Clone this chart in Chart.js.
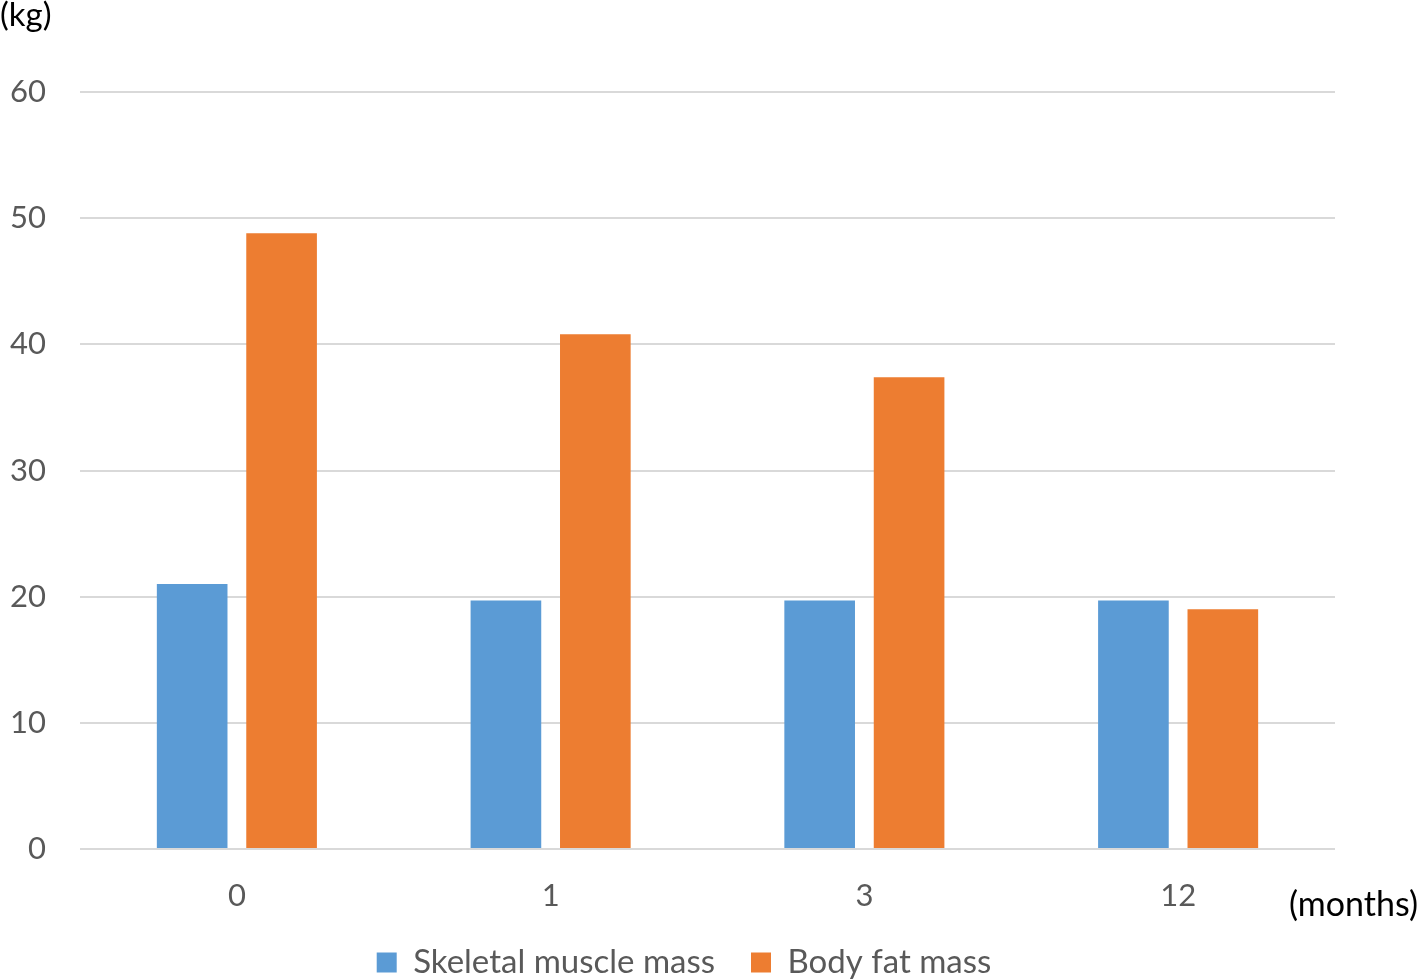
<!DOCTYPE html>
<html>
<head>
<meta charset="utf-8">
<script src="https://cdn.jsdelivr.net/npm/chart.js@4"></script>
<style>
  html, body { margin: 0; padding: 0; background: #fff; }
  #wrap { width: 1418px; height: 979px; }
</style>
</head>
<body>
<div id="wrap"><canvas id="chart" width="1418" height="979"></canvas></div>
<script>
// months after start
const months = ['0', '1', '3', '12'];
// kg
const skeletalMuscle = [21.0, 19.7, 19.7, 19.7];
const bodyFat = [48.8, 40.8, 37.4, 19.0];

const FONT = 'Lato, "Open Sans", sans-serif';
const TICK_GRAY = '#595959';

// axis unit captions: "(kg)" above the y axis, "(months)" right of the x labels
const unitLabels = {
    id: 'unitLabels',
    afterDraw(chart) {
        const ctx = chart.ctx;
        ctx.save();
        ctx.fillStyle = '#000';
        ctx.textBaseline = 'middle';
        ctx.font = '33px ' + FONT;
        ctx.textAlign = 'left';
        ctx.fillText('(kg)', 0, 15);
        ctx.font = '34px ' + FONT;
        ctx.textAlign = 'right';
        ctx.fillText('(months)', 1418, 905);
        ctx.restore();
    }
};

const ctx = document.getElementById('chart').getContext('2d');
new Chart(ctx, {
    type: 'bar',
    data: {
        labels: months,
        datasets: [
            {
                label: 'Skeletal muscle mass',
                data: skeletalMuscle,
                backgroundColor: '#5B9BD5'
            },
            {
                label: 'Body fat mass',
                data: bodyFat,
                backgroundColor: '#ED7D31'
            }
        ]
    },
    options: {
        responsive: false,
        animation: false,
        categoryPercentage: 0.57,
        barPercentage: 0.79,
        layout: { padding: { top: 92, right: 50, left: 0, bottom: -10 } },
        scales: {
            y: {
                min: 0,
                max: 60,
                afterFit: (scale) => { scale.width = 80; },
                border: { display: false },
                grid: { color: '#d9d9d9', lineWidth: 2, drawTicks: false },
                ticks: {
                    stepSize: 10,
                    padding: 34,
                    color: TICK_GRAY,
                    font: { family: FONT, size: 31 }
                }
            },
            // empty spacer on the right so the legend centres where the original does
            spacer: {
                position: 'right',
                afterFit: (scale) => { scale.width = 33; },
                border: { display: false },
                grid: { display: false },
                ticks: { display: false }
            },
            x: {
                afterFit: (scale) => { scale.height = 61; },
                border: { display: false },
                grid: { display: false },
                ticks: {
                    padding: 20,
                    color: TICK_GRAY,
                    font: { family: FONT, size: 31 }
                }
            }
        },
        plugins: {
            legend: {
                position: 'bottom',
                labels: {
                    boxWidth: 20,
                    boxHeight: 20,
                    padding: 36,
                    color: TICK_GRAY,
                    font: { family: FONT, size: 33 }
                }
            },
            tooltip: { enabled: false }
        }
    },
    plugins: [unitLabels]
});
</script>
</body>
</html>
